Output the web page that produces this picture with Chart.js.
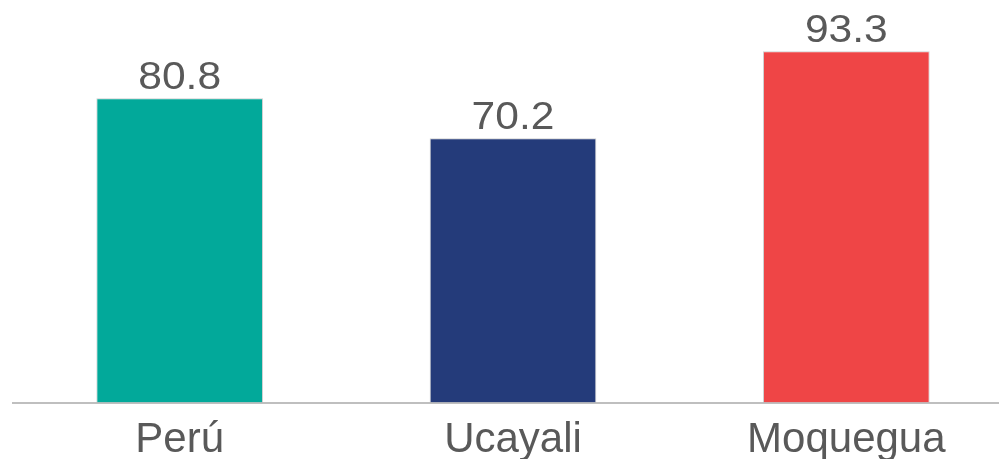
<!DOCTYPE html>
<html>
<head>
<meta charset="utf-8">
<script src="https://cdn.jsdelivr.net/npm/chart.js@4"></script>
<style>
  html, body { margin: 0; padding: 0; background: #fff; overflow: hidden; }
  #wrap { position: absolute; left: 0; top: 0; width: 1013px; height: 459px; }
</style>
</head>
<body>
<div id="wrap"><canvas id="chart" width="1013" height="459"></canvas></div>
<script>
const regiones = ['Perú', 'Ucayali', 'Moquegua'];
const valores = [80.8, 70.2, 93.3];
const colores = ['#02A99A', '#243B7A', '#EF4546'];

// etiquetas de valor encima de cada barra
const etiquetas = {
  id: 'etiquetas',
  afterDatasetsDraw(chart) {
    const ctx = chart.ctx;
    const meta = chart.getDatasetMeta(0);
    ctx.font = '38px "Liberation Sans", Arial, sans-serif';
    ctx.fillStyle = '#595959';
    ctx.textAlign = 'center';
    ctx.textBaseline = 'alphabetic';
    meta.data.forEach((bar, i) => {
      ctx.save();
      ctx.translate(bar.x, bar.y - 9);
      ctx.scale(1.12, 1);
      ctx.fillText(valores[i].toFixed(1), 0, 0);
      ctx.restore();
    });
  }
};

new Chart(document.getElementById('chart').getContext('2d'), {
  type: 'bar',
  data: {
    labels: regiones,
    datasets: [{
      data: valores,
      backgroundColor: colores,
      borderColor: 'rgba(120,120,120,0.35)',
      borderWidth: 1,
      barPercentage: 0.5,
      categoryPercentage: 1
    }]
  },
  options: {
    responsive: false,
    animation: false,
    layout: { padding: { left: 13, right: 0, top: 26, bottom: -20 } },
    plugins: { legend: { display: false }, tooltip: { enabled: false } },
    scales: {
      y: { display: false, min: 0, max: 100 },
      x: {
        grid: { display: false, drawTicks: false },
        border: { display: true, color: '#BFBFBF', width: 2 },
        ticks: {
          padding: 13,
          color: '#595959',
          font: { family: '"Liberation Sans", Arial, sans-serif', size: 42 }
        }
      }
    }
  },
  plugins: [etiquetas]
});
</script>
</body>
</html>
